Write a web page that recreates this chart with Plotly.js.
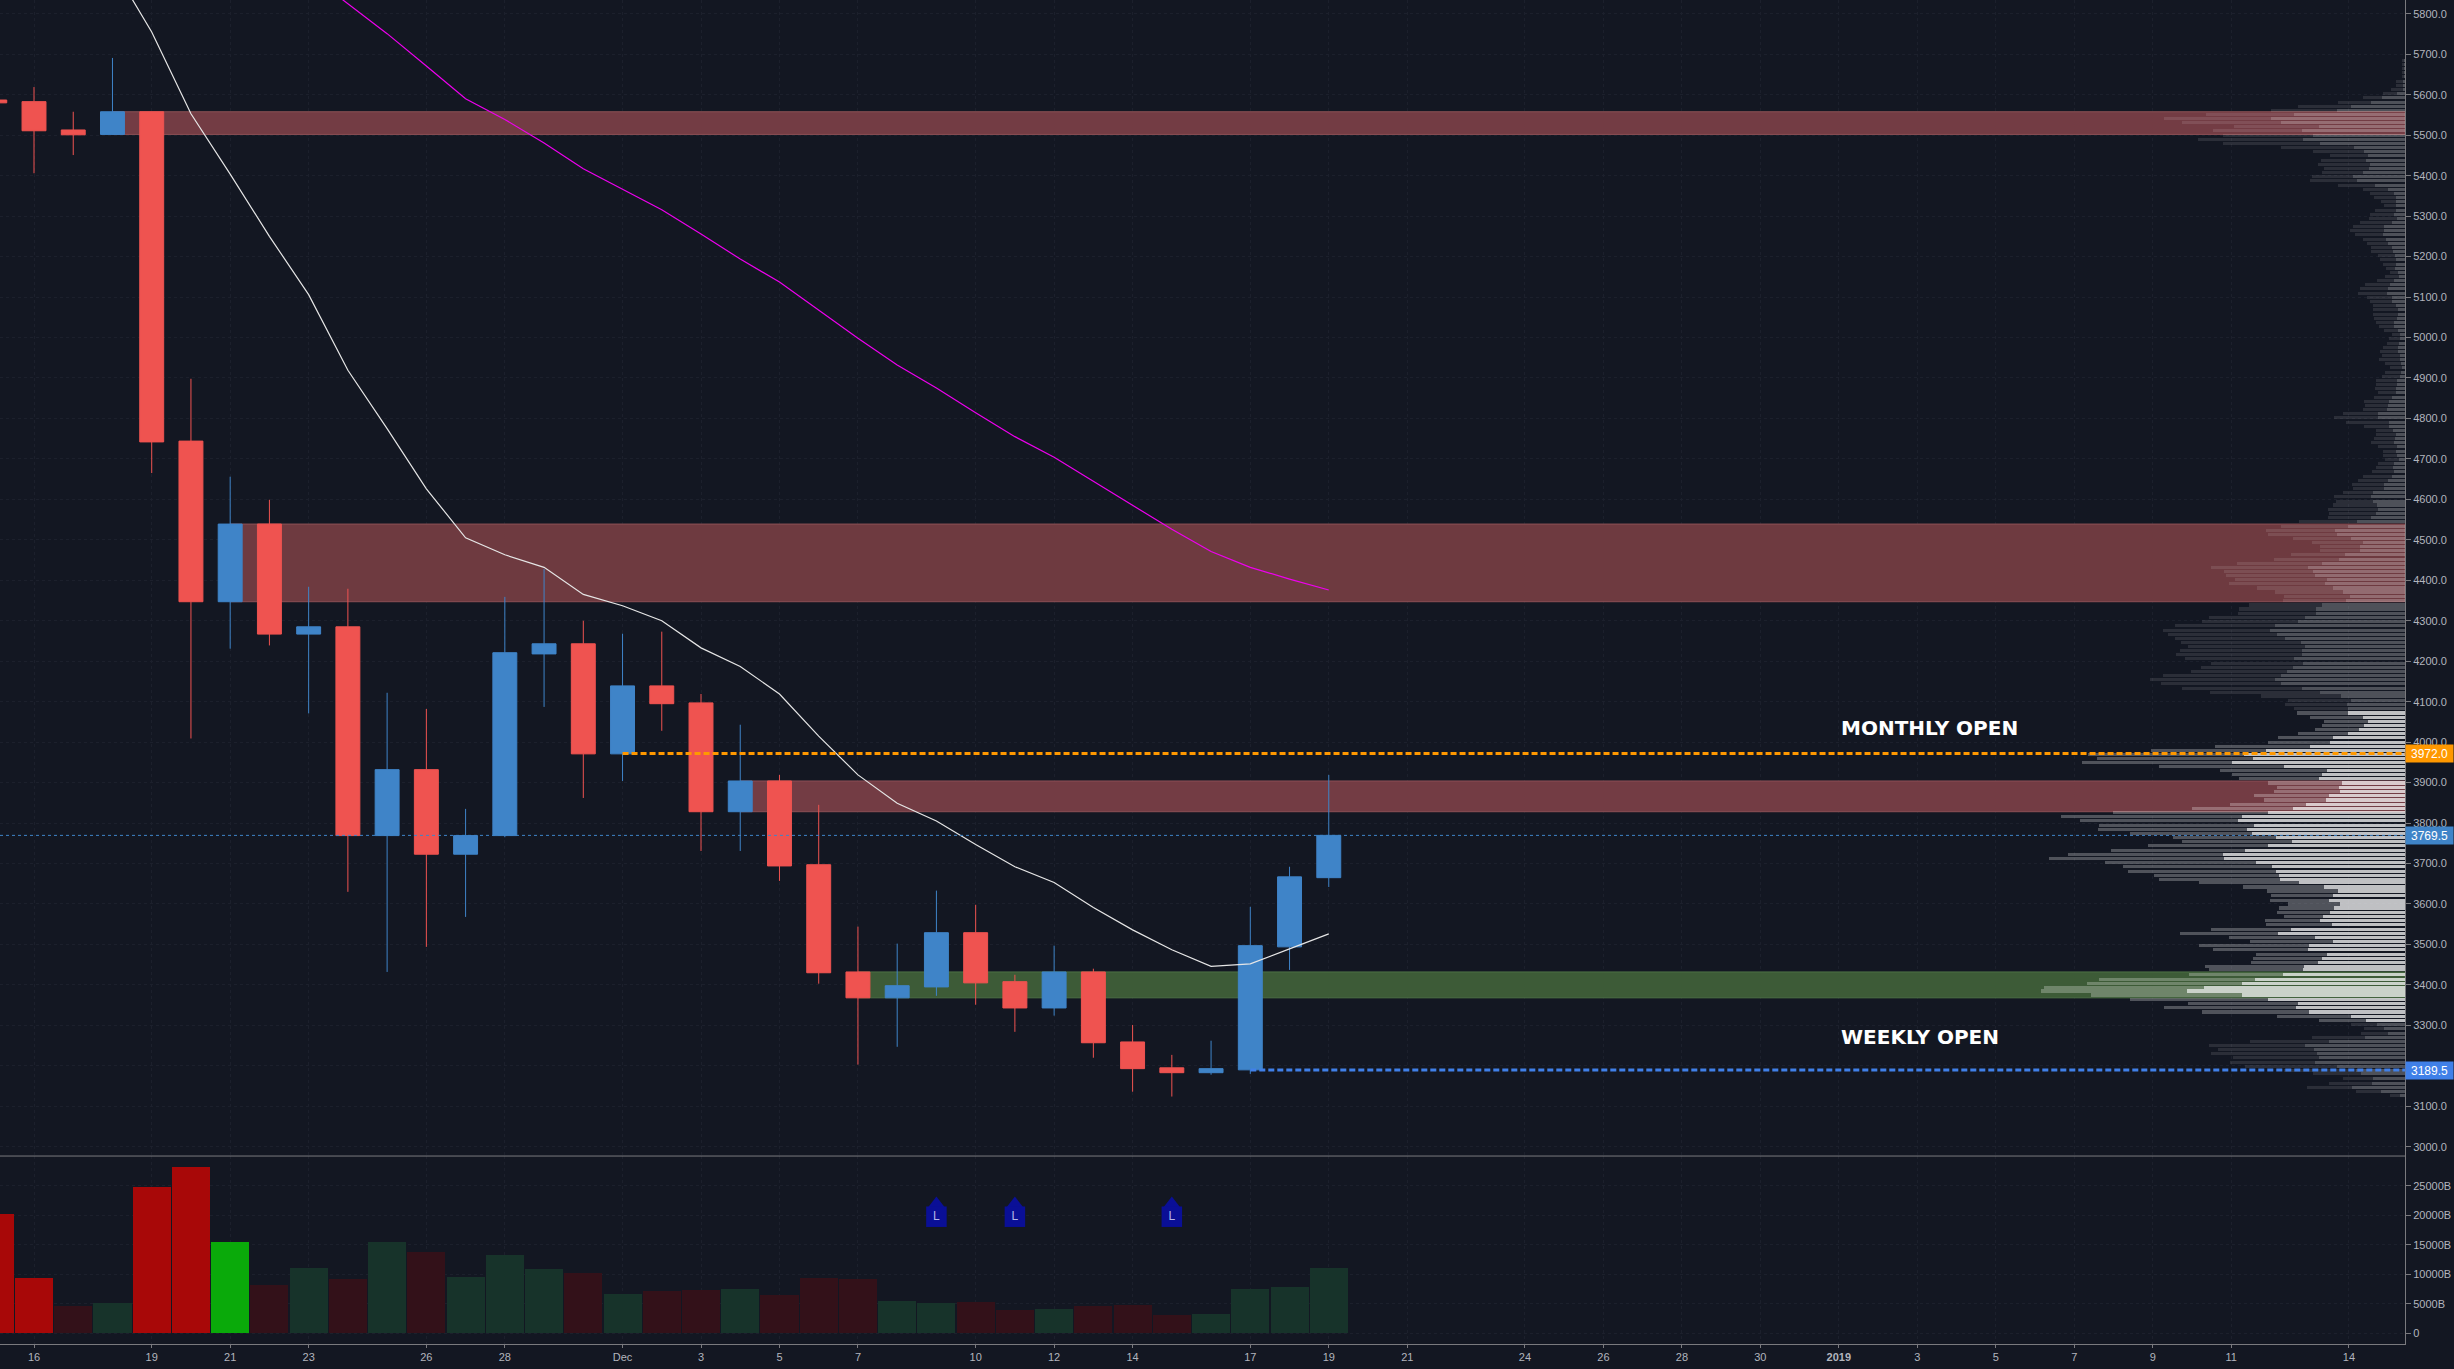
<!DOCTYPE html>
<html>
<head>
<meta charset="utf-8">
<script src="https://cdn.plot.ly/plotly-3.0.1.min.js"></script>
<style>html,body{margin:0;padding:0;background:#131722;overflow:hidden}#chart{width:2454px;height:1369px}</style>
</head>
<body>
<div id="chart"></div>
<script>
var candleDates = ['2018-11-15','2018-11-16','2018-11-17','2018-11-18','2018-11-19','2018-11-20','2018-11-21','2018-11-22','2018-11-23','2018-11-24','2018-11-25','2018-11-26','2018-11-27','2018-11-28','2018-11-29','2018-11-30','2018-12-01','2018-12-02','2018-12-03','2018-12-04','2018-12-05','2018-12-06','2018-12-07','2018-12-08','2018-12-09','2018-12-10','2018-12-11','2018-12-12','2018-12-13','2018-12-14','2018-12-15','2018-12-16','2018-12-17','2018-12-18','2018-12-19'];
var opens  = [5587,5583,5513,5502,5558,4744,4347,4539,4267,4285,3769,3932,3723,3769,4218,4243,3971,4139,4097,3828,3904,3697,3432,3368,3395,3529,3408,3343,3432,3259,3195,3183,3190,3494,3665];
var highs  = [5600,5619,5558,5691,5558,4898,4656,4599,4384,4379,4122,4082,3835,4359,4428,4300,4268,4273,4119,4043,3919,3845,3544,3502,3633,3598,3425,3497,3440,3301,3227,3262,3593,3692,3919];
var lows   = [5560,5406,5451,5502,4665,4009,4231,4239,4071,3630,3432,3494,3568,3765,4087,3862,3904,4028,3731,3731,3657,3403,3203,3247,3373,3351,3284,3324,3220,3136,3124,3178,3180,3437,3642];
var closes = [5580,5511,5501,5558,4742,4347,4539,4267,4285,3769,3932,3723,3769,4221,4243,3971,4139,4095,3828,3904,3694,3430,3368,3398,3529,3405,3343,3432,3257,3193,3183,3193,3497,3667,3769.5];
var volumes = [20250,9420,4680,5190,24800,28200,15500,8230,11100,9190,15500,13800,9590,13300,10940,10200,6710,7220,7390,7560,6540,9420,9190,5470,5190,5360,4000,4170,4680,4850,3160,3330,7560,7900,11100];
var volumeKinds = ['hotDown','hotDown','down','up','hotDown','hotDown','hotUp','down','up','down','up','down','up','up','up','down','up','down','down','up','down','down','down','up','up','down','down','up','down','down','down','up','up','up','up'];
var whiteMaX = ['2018-11-18','2018-11-19','2018-11-20','2018-11-21','2018-11-22','2018-11-23','2018-11-24','2018-11-25','2018-11-26','2018-11-27','2018-11-28','2018-11-29','2018-11-30','2018-12-01','2018-12-02','2018-12-03','2018-12-04','2018-12-05','2018-12-06','2018-12-07','2018-12-08','2018-12-09','2018-12-10','2018-12-11','2018-12-12','2018-12-13','2018-12-14','2018-12-15','2018-12-16','2018-12-17','2018-12-18','2018-12-19'];
var whiteMa = [5918,5755,5553,5404,5250,5106,4919,4775,4626,4505,4463,4432,4365,4337,4300,4233,4187,4119,4015,3919,3849,3805,3747,3692,3653,3591,3536,3487,3446,3452,3489,3526];
var magentaX = ['2018-11-23','2018-11-24','2018-11-25','2018-11-26','2018-11-27','2018-11-28','2018-11-29','2018-11-30','2018-12-01','2018-12-02','2018-12-03','2018-12-04','2018-12-05','2018-12-06','2018-12-07','2018-12-08','2018-12-09','2018-12-10','2018-12-11','2018-12-12','2018-12-13','2018-12-14','2018-12-15','2018-12-16','2018-12-17','2018-12-18','2018-12-19'];
var magentaMa = [5899,5825,5751,5671,5590,5539,5481,5417,5366,5316,5256,5194,5137,5068,4998,4932,4875,4814,4755,4704,4644,4584,4526,4471,4432,4403,4376];

var profileLevels = [5685,5675,5665,5655,5645,5633,5623,5613,5604,5594,5582,5571,5561,5551,5541,5532,5521,5511,5499,5490,5479,5470,5459,5449,5438,5428,5418,5408,5398,5387,5376,5366,5356,5347,5337,5327,5315,5305,5295,5285,5275,5265,5254,5243,5233,5223,5213,5203,5192,5181,5171,5161,5151,5142,5132,5122,
5109,5100,5090,5080,5070,5058,5048,5038,5028,5018,5008,4998,4986,4976,4966,4956,4946,4936,4925,4914,4904,4894,4885,4875,4864,4852,4842,4832,4822,4812,4802,4791,4781,4771,4760,4750,4740,4730,4719,4709,4699,4689,4679,4668,4656,4646,4637,4627,4617,4607,4595,4586,4576,4565,4555,4545,
4534,4524,4514,4504,4494,4484,4474,4463,4452,4442,4432,4422,4411,4401,4391,4381,4371,4361,4351,4339,4329,4318,4308,4298,4288,4277,4267,4257,4247,4236,4226,4217,4207,4195,4185,4175,4165,4155,4144,4133,4123,4114,4104,4094,4083,
4072,4062,4052,4042,4032,4022,4011,4000,3990,3979,3970,3960,
3950,3939,3929,3919,3909,3899,3888,3877,3867,3857,3847,3837,3827,3816,3806,3795,3785,3775,3765,3754,3744,3733,3723,3713,3703,3692,3681,3671,3661,3652,3642,3632,3620,3609,3600,3590,3580,3570,3559,3549,3538,3528,3518,3508,3498,3487,3476,3466,3456,3446,3437,3426,3414,3404,3394,3385,3375,3364,3353,3343,3333,3323,3313,
3302,3292,3281,3271,3261,3251,3241,3231,3220,3209,3198,3189,3180,3169,3157,3147,3137,3127];
var profileInner = [1,1,1,1,1,2,2,2,8,23,34,54,68,111,134,124,86,103,92,102,85,51,41,37,39,35,36,42,52,48,30,17,11,9,9,9,9,11,8,13,21,21,22,19,17,13,12,10,9,9,10,7,6,11,15,17,
18,13,13,9,7,7,8,11,11,7,5,5,6,7,7,5,5,4,3,4,5,8,8,9,9,13,16,17,18,27,27,16,16,12,9,10,11,8,9,8,6,11,12,11,13,17,21,21,32,34,32,28,27,29,34,48,
57,70,68,54,42,45,45,60,66,83,97,92,90,78,80,72,62,55,59,83,89,89,100,107,130,135,128,120,104,100,103,103,111,102,112,118,124,130,124,103,85,64,54,58,57,
57,42,37,41,46,57,72,75,95,139,161,152,
173,121,78,83,86,63,66,65,76,79,99,112,137,163,167,151,158,153,129,113,137,160,182,181,149,133,129,126,125,106,81,67,72,76,65,71,75,82,85,73,114,127,90,72,96,97,78,83,87,101,102,122,150,163,201,218,163,137,107,109,96,54,39,
28,21,17,40,76,100,91,88,86,90,68,49,44,32,33,53,24,5];
var profileOuter = [2,2,2,2,2,7,7,12,14,19,33,53,66,88,107,99,85,89,90,105,97,73,51,38,45,52,45,41,41,47,37,25,24,22,15,12,21,24,28,32,31,34,28,23,21,21,22,17,16,13,9,8,14,17,25,28,
29,25,22,23,25,25,23,18,15,14,8,11,12,15,18,18,21,16,12,16,18,21,21,21,18,18,25,23,24,35,44,43,25,17,20,21,23,19,13,14,14,16,17,22,29,30,32,31,30,37,37,44,50,47,43,58,
67,69,69,58,51,40,40,54,65,85,97,89,89,92,96,76,68,66,63,73,77,78,96,96,100,107,109,110,120,117,122,126,109,92,92,96,118,125,120,120,110,80,63,62,54,
51,53,44,42,44,50,55,62,95,115,156,156,
150,125,107,90,80,74,62,66,75,62,76,101,155,181,158,155,149,122,103,110,120,134,155,175,151,149,148,125,121,100,81,71,62,59,52,55,53,39,55,66,80,98,86,83,110,95,71,69,67,99,94,94,156,155,160,146,151,138,110,132,107,74,47,
26,20,27,53,79,96,96,106,86,85,92,72,48,30,43,45,25,10];

var dateTicks = ['2018-11-16','2018-11-19','2018-11-21','2018-11-23','2018-11-26','2018-11-28','2018-12-01','2018-12-03','2018-12-05','2018-12-07','2018-12-10','2018-12-12','2018-12-14','2018-12-17','2018-12-19','2018-12-21','2018-12-24','2018-12-26','2018-12-28','2018-12-30','2019-01-01','2019-01-03','2019-01-05','2019-01-07','2019-01-09','2019-01-11','2019-01-14'];
var dateLabels = ['16','19','21','23','26','28','Dec','3','5','7','10','12','14','17','19','21','24','26','28','30','<b>2019</b>','3','5','7','9','11','14'];
var priceTicks = [3000,3100,3200,3300,3400,3500,3600,3700,3800,3900,4000,4100,4200,4300,4400,4500,4600,4700,4800,4900,5000,5100,5200,5300,5400,5500,5600,5700,5800];
var volumeTicks = [0,5000,10000,15000,20000,25000];
var volumeLabels = ['0','5000B','10000B','15000B','20000B','25000B'];
var alertDates = ['2018-12-09','2018-12-11','2018-12-15'];
var alertLabels = ['L','L','L'];
var alertArrowLevel = [22030,22030,22030];
var alertBodyLevel = [19780,19780,19780];

var zones = [
  {from:'2018-11-18', low:5502, high:5558, fill:'#733c44', edge:'#8c5055'},
  {from:'2018-11-21', low:4347, high:4539, fill:'#6e3a40', edge:'#8c5055'},
  {from:'2018-12-04', low:3828, high:3904, fill:'#733c44', edge:'#8c5055'},
  {from:'2018-12-07', low:3368, high:3432, fill:'#3d5b37', edge:'#4d7045'}
];
var monthlyOpen = 3972, weeklyOpen = 3189.5, lastPrice = 3769.5;
var xEnd = '2019-01-15 10:19';
var xStart = '2018-11-15 03:12';

var BG = '#131722', AXIS = '#7a7a7e', TXT = '#b2b5be', GRID = '#1c202c';
var UP = '#3f84c8', DOWN = '#ef5350';
var kindColor = {hotDown:'#a80808', hotUp:'#0aaa0a', down:'#331119', up:'#17332a'};
var font = 'Liberation Sans, Arial, sans-serif';

function brightRow(p){ return p <= 4075 && p >= 3310; }

var traces = [
  {type:'scatter', mode:'lines', x:magentaX, y:magentaMa, xaxis:'x', yaxis:'y', line:{color:'#ee00ee', width:1.2}, hoverinfo:'skip'},
  {type:'scatter', mode:'lines', x:whiteMaX, y:whiteMa, xaxis:'x', yaxis:'y', line:{color:'#e6e6e6', width:1.2}, hoverinfo:'skip'},
  {type:'candlestick', x:candleDates, open:opens, high:highs, low:lows, close:closes, xaxis:'x', yaxis:'y',
   whiskerwidth:0, line:{width:1},
   increasing:{line:{color:UP, width:1}, fillcolor:UP},
   decreasing:{line:{color:DOWN, width:1}, fillcolor:DOWN}},
  {type:'bar', x:candleDates, y:volumes, xaxis:'x', yaxis:'y2', width:0.97*86400000,
   marker:{color:volumeKinds.map(function(k){return kindColor[k];}), line:{width:0}}, hoverinfo:'skip'},
  {type:'scatter', mode:'markers', x:alertDates, y:alertArrowLevel, xaxis:'x', yaxis:'y2',
   marker:{symbol:'triangle-up', size:14, color:'#0a0f96', line:{width:0}}, hoverinfo:'skip'},
  {type:'scatter', mode:'markers+text', x:alertDates, y:alertBodyLevel, xaxis:'x', yaxis:'y2', text:alertLabels,
   textposition:'middle center', textfont:{family:font, size:12, color:'#b4b6e6'},
   marker:{symbol:'square', size:20.5, color:'#0a0f96', line:{width:0}}, hoverinfo:'skip'},
  {type:'bar', orientation:'h', y:profileLevels, x:profileInner, xaxis:'x2', yaxis:'y', width:7.6,
   marker:{color:profileLevels.map(function(p){return brightRow(p)?'rgba(255,255,255,0.73)':'rgba(255,255,255,0.25)';}), line:{width:0}}, hoverinfo:'skip'},
  {type:'bar', orientation:'h', y:profileLevels, x:profileOuter, xaxis:'x2', yaxis:'y', width:7.6,
   marker:{color:profileLevels.map(function(p){return brightRow(p)?'rgba(255,255,255,0.26)':'rgba(255,255,255,0.10)';}), line:{width:0}}, hoverinfo:'skip'}
];

var shapes = zones.map(function(z){
  return {type:'rect', layer:'between', xref:'x', yref:'y', x0:z.from, x1:xEnd, y0:z.low, y1:z.high, fillcolor:z.fill, line:{color:z.edge, width:1}};
});
shapes.push({type:'line', xref:'x', yref:'y', x0:'2018-12-01', x1:xEnd, y0:monthlyOpen, y1:monthlyOpen, line:{color:'#ff9800', width:3, dash:'6px,3px'}});
shapes.push({type:'line', xref:'x', yref:'y', x0:'2018-12-17', x1:xEnd, y0:weeklyOpen, y1:weeklyOpen, line:{color:'#4080e8', width:3, dash:'6px,3px'}});
shapes.push({type:'line', xref:'x', yref:'y', x0:xStart, x1:xEnd, y0:lastPrice, y1:lastPrice, line:{color:'#3f84c8', width:1, dash:'dot'}});
shapes.push({type:'line', xref:'paper', yref:'paper', x0:0, x1:1, y0:0.13985, y1:0.13985, line:{color:AXIS, width:1}});

function priceTag(v, color){
  return {xref:'paper', yref:'y', x:1, y:v, xanchor:'left', yanchor:'middle', showarrow:false, text:v.toFixed(1),
    width:45, height:15, bgcolor:color, borderpad:1, align:'center', font:{family:font, size:12, color:'#ffffff'}};
}
var annotations = [
  {xref:'x', yref:'y', x:'2019-01-01', y:4035, xanchor:'left', yanchor:'middle', showarrow:false, text:'<b>MONTHLY OPEN</b>', font:{family:'DejaVu Sans', size:20, color:'#ffffff'}},
  {xref:'x', yref:'y', x:'2019-01-01', y:3270, xanchor:'left', yanchor:'middle', showarrow:false, text:'<b>WEEKLY OPEN</b>', font:{family:'DejaVu Sans', size:20, color:'#ffffff'}},
  priceTag(monthlyOpen,'#ff9800'), priceTag(lastPrice,'#3f84c8'), priceTag(weeklyOpen,'#4080e8')
];

var layout = {
  width:2454, height:1369, paper_bgcolor:BG, plot_bgcolor:BG, showlegend:false,
  margin:{l:0, r:48.6, t:0, b:24.7, pad:0}, font:{family:font, size:11, color:TXT},
  barmode:'stack', boxgap:0.39, boxgroupgap:0, bargap:0,
  xaxis:{type:'date', range:[xStart,xEnd], anchor:'y2', domain:[0,1], tickmode:'array', tickvals:dateTicks, ticktext:dateLabels,
    showgrid:true, gridcolor:GRID, griddash:'dot', gridwidth:1, zeroline:false, showline:true, linecolor:AXIS, linewidth:1,
    ticks:'outside', ticklen:3, tickcolor:AXIS, tickfont:{family:font, size:11, color:TXT}, rangeslider:{visible:false}, tickangle:0},
  xaxis2:{overlaying:'x', anchor:'y', range:[2404.5,0], visible:false, showgrid:false, zeroline:false, fixedrange:true},
  yaxis:{domain:[0.13985,1], range:[2977,5834.2], side:'right', anchor:'x', tickmode:'array', tickvals:priceTicks, tickformat:'.1f',
    showgrid:true, gridcolor:GRID, griddash:'dot', gridwidth:1, zeroline:false, showline:true, linecolor:AXIS, linewidth:1,
    ticks:'outside', ticklen:5, tickcolor:AXIS, tickfont:{family:font, size:11, color:TXT}},
  yaxis2:{domain:[0,0.13985], range:[-1800,30068], side:'right', anchor:'x', tickmode:'array', tickvals:volumeTicks, ticktext:volumeLabels,
    showgrid:true, gridcolor:GRID, griddash:'dot', gridwidth:1, zeroline:false, showline:true, linecolor:AXIS, linewidth:1,
    ticks:'outside', ticklen:5, tickcolor:AXIS, tickfont:{family:font, size:11, color:TXT}},
  shapes:shapes, annotations:annotations
};
Plotly.newPlot('chart', traces, layout, {displayModeBar:false, staticPlot:true});
</script>
</body>
</html>
